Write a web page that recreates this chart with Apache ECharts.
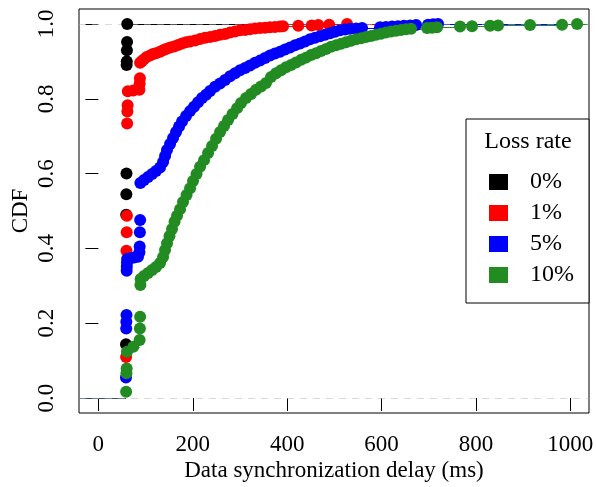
<!DOCTYPE html>
<html>
<head>
<meta charset="utf-8">
<script src="https://cdn.jsdelivr.net/npm/echarts@6/dist/echarts.min.js"></script>
<style>
  html, body { margin: 0; padding: 0; background: #ffffff; }
  #chart { width: 596px; height: 487px; }
</style>
</head>
<body>
<div id="chart"></div>
<script>
// Empirical CDF of data synchronization delay under four packet-loss rates.
const lossRates = ['0%', '1%', '5%', '10%'];

// Each series: distinct delay values (ms) and the ECDF value at each of them.
const delay0 = [58.6, 59.0, 59.3, 59.6, 59.9, 60.2, 60.5, 60.8, 61.2];
const cdf0   = [0.144, 0.490, 0.545, 0.600, 0.890, 0.900, 0.930, 0.952, 1.000];

const delay1 = [58.8, 59.5, 60.0, 60.5, 61.0, 61.5, 62.0, 62.5, 74, 87, 87.5, 88,
  88.5, 92.6, 96.8, 102.5, 109.5, 115.9, 122.2, 130.7, 137.1, 143.4,
  151.9, 160.4, 168.9, 177.3, 185.8, 194.3, 204.9, 215.5, 226.1, 236.7,
  247.2, 257.8, 268.4, 279.0, 289.6, 300.2, 310.8, 321.4, 332.0, 342.5,
  353.1, 363.7, 374.3, 384.9, 391.3, 423.7, 452.0, 466.0, 489.0, 527.0];
const cdf1 = [0.110, 0.394, 0.443, 0.487, 0.734, 0.766, 0.783, 0.820, 0.822, 0.824, 0.840, 0.855,
  0.896, 0.901, 0.906, 0.912, 0.916, 0.920, 0.922, 0.926, 0.930, 0.933,
  0.937, 0.940, 0.944, 0.948, 0.951, 0.953, 0.956, 0.960, 0.963, 0.965,
  0.968, 0.971, 0.973, 0.977, 0.980, 0.983, 0.984, 0.986, 0.988, 0.989,
  0.990, 0.991, 0.992, 0.993, 0.994, 0.995, 0.996, 0.997, 0.998, 1.000];

const delay5 = [58.5, 59.0, 59.3, 59.6, 60.0, 60.3, 60.6, 61.0, 68, 76, 84, 87, 87.5, 88, 88.5,
  89.0, 96.8, 105.3, 113.8, 122.2, 130.7, 137.1, 141.3, 145.5, 151.9,
  158.3, 164.6, 171.0, 177.3, 185.8, 194.3, 202.7, 211.2, 219.7, 228.2,
  236.7, 247.2, 257.8, 268.4, 279.0, 289.6, 300.2, 310.8, 321.4, 332.0,
  342.5, 353.1, 363.7, 374.3, 384.9, 395.5, 406.1, 416.7, 427.3, 437.9,
  448.5, 459.1, 469.7, 480.3, 490.9, 501.5, 512.1, 522.7, 533.3, 546.0,
  558.7, 596.8, 609.5, 622.2, 635.0, 647.6, 660.4, 673.1, 698.5, 709.1, 719.7];
const cdf5 = [0.055, 0.186, 0.204, 0.222, 0.340, 0.351, 0.362, 0.372, 0.374, 0.376, 0.378, 0.390, 0.405, 0.443, 0.476,
  0.575, 0.583, 0.591, 0.599, 0.607, 0.616, 0.631, 0.647, 0.663, 0.679,
  0.695, 0.711, 0.726, 0.739, 0.754, 0.767, 0.779, 0.791, 0.802, 0.811,
  0.821, 0.832, 0.841, 0.850, 0.860, 0.868, 0.876, 0.882, 0.889, 0.896,
  0.902, 0.909, 0.916, 0.921, 0.926, 0.932, 0.937, 0.943, 0.948, 0.953,
  0.959, 0.963, 0.967, 0.971, 0.975, 0.979, 0.983, 0.985, 0.987, 0.988,
  0.989, 0.991, 0.992, 0.993, 0.994, 0.995, 0.996, 0.997, 0.998, 0.999, 1.000];

const delay10 = [58.8, 59.5, 60.0, 60.5, 74, 87.5, 88, 88.5,
  89.0, 89.6, 96.8, 105.3, 113.8, 122.2, 130.7, 137.1, 141.3, 145.5,
  150.8, 156.1, 161.4, 166.7, 173.1, 179.4, 186.9, 194.3, 200.6, 208.0,
  215.5, 223.9, 232.4, 240.9, 249.4, 257.8, 266.3, 274.8, 284.3, 293.9,
  302.3, 312.9, 323.5, 334.1, 344.7, 355.2, 365.8, 376.4, 387.0, 397.6,
  408.2, 418.8, 429.4, 440.0, 450.6, 461.2, 471.8, 482.4, 493.0, 503.6,
  514.3, 524.8, 535.4, 546.0, 556.6, 567.2, 577.7, 588.3, 598.9, 609.5,
  620.1, 630.7, 641.3, 651.9, 662.5, 696.4, 707.0, 717.6, 766.3, 791.7,
  829.9, 846.8, 914.6, 982.4, 1014.2];
const cdf10 = [0.017, 0.066, 0.079, 0.124, 0.137, 0.155, 0.186, 0.217,
  0.302, 0.318, 0.326, 0.334, 0.342, 0.350, 0.361, 0.377, 0.396, 0.414,
  0.433, 0.452, 0.471, 0.487, 0.505, 0.524, 0.543, 0.561, 0.580, 0.599,
  0.618, 0.636, 0.655, 0.674, 0.693, 0.711, 0.727, 0.743, 0.759, 0.775,
  0.789, 0.802, 0.813, 0.824, 0.833, 0.842, 0.858, 0.868, 0.876, 0.884,
  0.890, 0.897, 0.904, 0.910, 0.917, 0.922, 0.928, 0.933, 0.939, 0.943,
  0.947, 0.951, 0.955, 0.959, 0.962, 0.965, 0.968, 0.971, 0.974, 0.977,
  0.980, 0.982, 0.984, 0.986, 0.987, 0.989, 0.990, 0.991, 0.993, 0.994,
  0.995, 0.996, 0.997, 0.998, 1.000];

const xTicks = [0, 200, 400, 600, 800, 1000];
const yTicks = [0, 0.2, 0.4, 0.6, 0.8, 1.0];

// Styling
const colors = ['#000000', '#ff0000', '#0000ff', '#228b22'];
const FONT = 'Liberation Serif, Times New Roman, serif';
const X_MIN = -41, X_MAX = 1039.5;
const Y_MIN = -0.04, Y_MAX = 1.04;

const seriesDelays = [delay0, delay1, delay5, delay10];
const seriesCdfs = [cdf0, cdf1, cdf5, cdf10];

// Horizontal pieces of the ECDF step function (no verticals), plus the
// 0-level tail on the left and the 1-level tail on the right.
function stepSegments(d, c) {
  const segs = [{ coords: [[X_MIN, 0], [d[0], 0]], lineStyle: { opacity: 0.55 } }];
  for (let i = 0; i < d.length; i++) {
    const xEnd = i + 1 < d.length ? d[i + 1] : X_MAX;
    segs.push({ coords: [[d[i], c[i]], [xEnd, c[i]]] });
  }
  return segs;
}

const series = [];
lossRates.forEach((name, k) => {
  series.push({
    name: name + ' step',
    type: 'lines',
    coordinateSystem: 'cartesian2d',
    polyline: false,
    silent: true,
    z: 2,
    lineStyle: { color: colors[k], width: 1, opacity: 1 },
    data: stepSegments(seriesDelays[k], seriesCdfs[k])
  });
});
// dashed reference lines at 0 and 1
series.push({
  name: 'bounds',
  type: 'lines',
  coordinateSystem: 'cartesian2d',
  polyline: false,
  silent: true,
  z: 3,
  lineStyle: { color: '#b3b3b3', width: 1, type: [7, 6] },
  data: [
    { coords: [[X_MIN, 0], [X_MAX, 0]] },
    { coords: [[X_MIN, 1], [X_MAX, 1]] }
  ]
});
lossRates.forEach((name, k) => {
  series.push({
    name: name,
    type: 'scatter',
    symbol: 'circle',
    symbolSize: 12,
    z: 4,
    itemStyle: { color: colors[k], opacity: 1 },
    data: seriesDelays[k].map((v, i) => [v, seriesCdfs[k][i]])
  });
});

const chart = echarts.init(document.getElementById('chart'), null, { renderer: 'canvas' });
chart.setOption({
  animation: false,
  backgroundColor: '#ffffff',
  textStyle: { fontFamily: FONT },
  grid: {
    left: 79, right: 7, top: 9, bottom: 74,
    containLabel: false,
    outerBoundsMode: 'none',
    show: true, borderColor: '#000000', borderWidth: 1, backgroundColor: 'transparent'
  },
  xAxis: {
    type: 'value',
    min: X_MIN, max: X_MAX,
    splitLine: { show: false },
    axisLine: { show: false },
    axisTick: { show: true, customValues: xTicks, length: 13, lineStyle: { color: '#000', width: 1 } },
    axisLabel: {
      customValues: xTicks, fontSize: 23, color: '#000', margin: 20, fontFamily: FONT,
      formatter: v => String(v)
    },
    name: 'Data synchronization delay (ms)',
    nameLocation: 'middle',
    nameGap: 46,
    nameMoveOverlap: false,
    nameTextStyle: { fontSize: 23, color: '#000', fontFamily: FONT }
  },
  yAxis: {
    type: 'value',
    min: Y_MIN, max: Y_MAX,
    splitLine: { show: false },
    axisLine: { show: false },
    axisTick: { show: true, customValues: yTicks, length: 13, lineStyle: { color: '#000', width: 1 } },
    axisLabel: {
      customValues: yTicks, rotate: 90, fontSize: 23, color: '#000', margin: 21, fontFamily: FONT,
      formatter: v => v.toFixed(1)
    },
    name: 'CDF',
    nameLocation: 'middle',
    nameRotate: 90,
    nameGap: 47,
    nameMoveOverlap: false,
    nameTextStyle: { fontSize: 23, color: '#000', fontFamily: FONT }
  },
  legend: {
    data: lossRates,
    orient: 'vertical',
    left: 489,
    top: 170,
    padding: 0,
    z: 20,
    icon: 'rect',
    itemWidth: 19,
    itemHeight: 16,
    itemGap: 7,
    selectedMode: false,
    textStyle: { fontSize: 24, color: '#000', fontFamily: FONT, padding: [0, 0, 0, 17] }
  },
  graphic: [
    {
      type: 'rect', z: 10,
      shape: { x: 466, y: 119, width: 123, height: 184 },
      style: { fill: '#ffffff', stroke: '#000000', lineWidth: 1 }
    },
    {
      type: 'text', z: 11,
      style: {
        text: 'Loss rate', x: 528, y: 142, textAlign: 'center', textVerticalAlign: 'middle',
        font: '24px ' + FONT, fill: '#000'
      }
    }
  ],
  series: series
});
</script>
</body>
</html>
